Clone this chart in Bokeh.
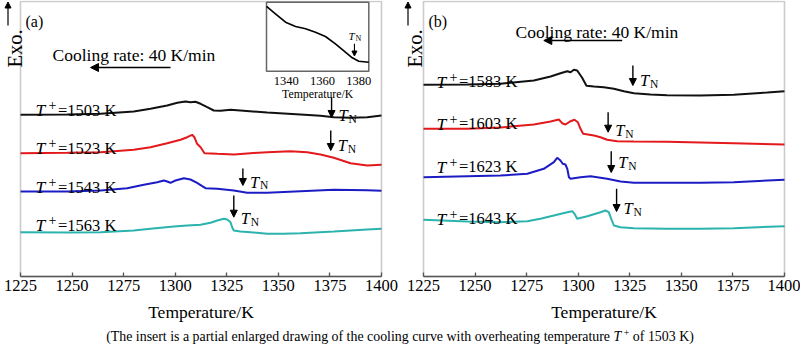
import math
from bokeh.plotting import figure
from bokeh.models import Range1d, LinearAxis, FixedTicker, Label, Arrow, NormalHead, Div, BoxAnnotation
from bokeh.layouts import row, column
from bokeh.embed import file_html
from bokeh.resources import INLINE

# ---------------- data ----------------
x_ticks = [1225, 1250, 1275, 1300, 1325, 1350, 1375, 1400]
inset_ticks = [1340, 1360, 1380]

# panel (a)
a1503_x = [1225, 1247.6, 1263.8, 1279.9, 1288.0, 1296.1, 1301.0, 1305.0, 1307.4, 1309.8, 1312.3, 1315.5,
           1318.7, 1322.0, 1326.8, 1331.6, 1344.6, 1360.7, 1370.4, 1376.9, 1385.0, 1393.1, 1400]
a1503_y = [161.7, 162.0, 162.7, 165.0, 167.7, 171.0, 173.7, 175.0, 174.3, 174.7, 172.7, 169.3,
           166.0, 165.7, 166.7, 166.0, 164.0, 162.0, 160.7, 159.3, 158.7, 159.3, 161.0]
a1523_x = [1225, 1247.6, 1263.8, 1279.9, 1288.0, 1296.1, 1302.6, 1305.8, 1308.2, 1309.3, 1310.6, 1312.3,
           1314.2, 1320.4, 1328.4, 1336.5, 1344.6, 1355.9, 1364.0, 1370.4, 1376.9, 1385.0, 1393.1, 1400]
a1523_y = [123.3, 123.7, 124.3, 126.7, 129.3, 133.3, 136.7, 139.3, 141.7, 139.3, 132.7, 129.3,
           123.3, 122.7, 122.0, 123.3, 124.3, 125.3, 124.3, 122.0, 118.7, 113.3, 111.0, 111.7]
a1543_x = [1225, 1247.6, 1263.8, 1276.7, 1284.8, 1291.3, 1294.5, 1296.1, 1297.7, 1300.1, 1304.2, 1307.4,
           1310.6, 1313.1, 1314.7, 1320.4, 1328.4, 1334.9, 1344.6, 1360.7, 1376.9, 1393.1, 1400]
a1543_y = [85.0, 85.0, 86.0, 88.3, 91.7, 94.3, 96.0, 95.0, 93.7, 96.0, 98.3, 97.0,
           93.7, 90.3, 88.3, 87.7, 86.0, 83.7, 83.7, 85.3, 86.7, 86.3, 85.7]
a1563_x = [1225, 1247.6, 1263.8, 1279.9, 1288.0, 1299.3, 1305.8, 1312.3, 1317.1, 1320.4, 1323.6, 1325.2,
           1326.8, 1327.6, 1328.4, 1331.6, 1336.5, 1344.6, 1352.6, 1360.7, 1376.9, 1393.1, 1400]
a1563_y = [44.3, 44.0, 44.3, 46.0, 47.7, 50.0, 51.0, 51.7, 53.7, 56.0, 57.7, 57.0,
           54.3, 49.3, 46.0, 45.0, 44.3, 42.7, 42.7, 43.3, 45.0, 47.0, 47.7]

# panel (b)
b1583_x = [1225, 1246.2, 1262.3, 1278.5, 1286.6, 1291.4, 1294.7, 1296.3, 1297.9, 1299.5, 1301.9, 1304.0,
           1307.6, 1312.4, 1317.3, 1322.1, 1327.0, 1335.0, 1343.1, 1359.3, 1375.4, 1391.6, 1400]
b1583_y = [191.7, 192.0, 192.7, 196.0, 200.0, 203.3, 205.3, 204.3, 206.7, 206.0, 198.7, 190.7,
           190.0, 189.3, 187.7, 185.3, 183.3, 182.0, 181.3, 181.0, 181.7, 184.0, 185.3]
b1603_x = [1225, 1246.2, 1262.3, 1278.5, 1286.6, 1290.6, 1292.2, 1293.8, 1296.3, 1298.2, 1299.8, 1301.1,
           1302.4, 1307.6, 1310.8, 1314.0, 1318.9, 1327.0, 1343.1, 1359.3, 1375.4, 1400]
b1603_y = [147.7, 147.7, 149.0, 152.0, 155.0, 157.0, 153.3, 152.0, 155.3, 156.7, 154.3, 147.7,
           142.7, 141.0, 139.3, 136.7, 135.3, 135.0, 134.7, 134.0, 133.3, 132.0]
b1623_x = [1225, 1262.3, 1275.3, 1283.3, 1288.2, 1289.8, 1291.4, 1292.5, 1293.8, 1294.7, 1295.5, 1296.3,
           1301.1, 1306.0, 1309.2, 1314.0, 1320.5, 1327.0, 1343.1, 1359.3, 1375.4, 1400]
b1623_y = [99.3, 101.0, 102.7, 107.7, 114.3, 118.7, 116.0, 112.7, 112.0, 107.7, 99.3, 97.7,
           99.3, 100.3, 99.3, 97.7, 95.0, 93.7, 93.7, 93.7, 94.3, 96.7]
b1643_x = [1225, 1246.2, 1262.3, 1275.3, 1281.7, 1288.2, 1294.7, 1297.1, 1298.2, 1299.5, 1304.4, 1310.8,
           1313.2, 1314.8, 1316.0, 1317.3, 1320.5, 1327.0, 1343.1, 1359.3, 1375.4, 1400]
b1643_y = [56.7, 55.0, 54.3, 55.3, 57.7, 61.0, 64.3, 65.3, 62.7, 57.7, 60.3, 64.3,
           66.0, 64.3, 57.7, 51.0, 49.3, 48.3, 47.7, 47.7, 48.3, 50.3]

# inset of (a): 1503 K curve, enlarged
inset_x = [1329.1, 1334.0, 1339.6, 1345.1, 1350.6, 1356.1, 1361.6, 1367.1, 1372.6, 1376.4, 1380.0, 1385.5]
inset_y = [93.8, 83.2, 71.0, 64.8, 61.4, 56.5, 50.3, 39.7, 27.5, 19.4, 14.5, 13.0]
inset_tn = 1377.6

temps_a = ["1503", "1523", "1543", "1563"]
temps_b = ["1583", "1603", "1623", "1643"]
tn_a = [1375.8, 1375.4, 1332.8, 1328.4]
tn_b = [1326.5, 1314.5, 1316.0, 1318.6]

colors = ["#111111", "#e3191c", "#1c1cc4", "#2bb3ae"]

# ---------------- layout constants ----------------
FONT = "Liberation Serif"
W, H = 400, 325
X0, X1 = 1225, 1400
TOP, BOT = 1, 276          # visible box top/bottom (canvas px)
FW = 361                   # visible box width px
SC = FW / (X1 - X0)        # px per K


def make_fig(left):
    """Frame covers the whole canvas; the visible box is drawn from the data limits."""
    xlo = X0 - left / SC
    xhi = X0 + (W - left) / SC
    p = figure(width=W, height=H, output_backend="svg", toolbar_location=None,
               x_range=Range1d(xlo, xhi), y_range=Range1d(BOT - H, BOT),
               x_axis_location=None, y_axis_location=None, min_border=0)
    p.grid.visible = False
    p.background_fill_color = "white"
    p.border_fill_color = "white"
    p.outline_line_color = None
    p.add_layout(BoxAnnotation(left=X0, right=X1, bottom=0, top=BOT - TOP, fill_color=None,
                               line_color="#555555", line_width=1.6))
    ax = LinearAxis(fixed_location=0, bounds=(X0, X1), ticker=FixedTicker(ticks=x_ticks))
    ax.minor_tick_line_color = None
    ax.major_tick_in = 4
    ax.major_tick_out = 0
    ax.major_tick_line_color = "#555555"
    ax.major_tick_line_width = 1.3
    ax.axis_line_color = "#555555"
    ax.axis_line_width = 1.6
    ax.major_label_text_font = FONT
    ax.major_label_text_font_size = "16.5px"
    ax.major_label_text_color = "black"
    ax.major_label_standoff = 3
    ax.axis_label = "Temperature/K"
    ax.axis_label_text_font = FONT
    ax.axis_label_text_font_size = "17.5px"
    ax.axis_label_text_font_style = "normal"
    ax.axis_label_text_color = "black"
    ax.axis_label_standoff = 8
    p.add_layout(ax, "below")
    p._left = left
    return p


def lab(p, px, py, text, size, style="normal", angle=0.0, align="left"):
    p.add_layout(Label(x=X0 + (px - p._left) / SC, y=BOT - py, text=text,
                       text_font=FONT, text_font_size=f"{size}px", text_font_style=style,
                       text_baseline="alphabetic", text_align=align, angle=angle,
                       text_color="black"))


def arrow(p, px0, py0, px1, py1, size=7, width=1.4):
    left = p._left
    p.add_layout(Arrow(end=NormalHead(size=size, fill_color="black", line_color="black", line_width=1),
                       x_start=X0 + (px0 - left) / SC, y_start=BOT - py0,
                       x_end=X0 + (px1 - left) / SC, y_end=BOT - py1,
                       line_color="black", line_width=width))


def decorate(p, panel, cool_x, cool_base, cool_arrow, tplus_x0, tplus_base, temps,
             tns, tn_py, tn_base):
    # Exo. with upward arrow, left of the box
    lab(p, 14, 67, "Exo.", 20.5, angle=math.pi / 2)
    arrow(p, 7.5, 25, 7.5, 1.5, size=6, width=1.2)
    # panel letter
    lab(p, p._left + 5, 21, panel, 16)
    # cooling rate
    lab(p, cool_x, cool_base, "Cooling rate: 40 K/min", 17.5)
    arrow(p, cool_arrow[0], cool_arrow[2], cool_arrow[1], cool_arrow[2], size=8, width=1.3)
    for i, t in enumerate(temps):
        b = tplus_base[i]
        lab(p, tplus_x0, b, "T", 17.5, "italic")
        lab(p, tplus_x0 + 13, b - 5, "+", 14)
        lab(p, tplus_x0 + 22.5, b, "=" + t + " K", 16.5)
        # T_N marker
        ax_px = p._left + (tns[i] - X0) * SC
        arrow(p, ax_px, tn_py[i][0], ax_px, tn_py[i][1], size=7, width=1.4)
        lab(p, ax_px + 7, tn_base[i], "T", 16.5, "italic")
        lab(p, ax_px + 17, tn_base[i] + 3.3, "N", 11.5)


# ---------------- panel (a) ----------------
p1 = make_fig(20)

# inset mapping (extra ranges spanning the whole canvas)
IN_L, IN_R, IN_B, IN_T = 266.0, 368.3, 70.7, 1.7   # inset box in canvas px
IN_PXK = 1.8125                                      # px per K in inset
IN_REF_K, IN_REF_PX = 1340.0, 285.8
in_pxv = (IN_B - IN_T) / 100.0
p1.extra_x_ranges = {"inset": Range1d(IN_REF_K - IN_REF_PX / IN_PXK, IN_REF_K + (W - IN_REF_PX) / IN_PXK)}
p1.extra_y_ranges = {"inset": Range1d(-(H - IN_B) / in_pxv, IN_B / in_pxv)}

box_l = IN_REF_K + (IN_L - IN_REF_PX) / IN_PXK
box_r = IN_REF_K + (IN_R - IN_REF_PX) / IN_PXK
p1.quad(left=[box_l], right=[box_r], bottom=[0], top=[100], x_range_name="inset", y_range_name="inset",
        fill_color="white", line_color="#666666", line_width=1.5)
p1.line(inset_x, inset_y, x_range_name="inset", y_range_name="inset", line_color="black", line_width=1.6)

iax = LinearAxis(x_range_name="inset", y_range_name="inset", fixed_location=0,
                 ticker=FixedTicker(ticks=inset_ticks))
iax.axis_line_color = None
iax.major_tick_line_color = None
iax.minor_tick_line_color = None
iax.major_label_text_font = FONT
iax.major_label_text_font_size = "12.5px"
iax.major_label_text_color = "black"
iax.major_label_standoff = 0
p1.add_layout(iax, "below")
p1.add_layout(Label(x=(box_l + box_r) / 2, y=(IN_B - 93.3) / in_pxv, text="Temperature/K",
                    x_range_name="inset", y_range_name="inset", text_font=FONT, text_font_size="11.8px",
                    text_align="center", text_baseline="alphabetic", text_color="black"))

# inset T_N
p1.add_layout(Arrow(end=NormalHead(size=5, fill_color="black", line_color="black", line_width=1),
                    x_start=inset_tn, y_start=(IN_B - 43.3) / in_pxv, x_end=inset_tn, y_end=(IN_B - 55.5) / in_pxv,
                    x_range_name="inset", y_range_name="inset", line_color="black", line_width=1.1))
for txt, dx, dy, sz, st in [("T", -6, 35, 11, "italic"), ("N", 1, 37.5, 8, "normal")]:
    p1.add_layout(Label(x=inset_tn, y=(IN_B - dy) / in_pxv, x_offset=dx, text=txt, x_range_name="inset",
                        y_range_name="inset", text_font=FONT, text_font_size=f"{sz}px", text_font_style=st,
                        text_baseline="alphabetic", text_color="black"))

for xs, ys, c in zip([a1503_x, a1523_x, a1543_x, a1563_x], [a1503_y, a1523_y, a1543_y, a1563_y], colors):
    p1.line(xs, ys, line_color=c, line_width=2)

decorate(p1, "(a)", 52, 54.5, (170, 90, 67), 35, [109.5, 147.5, 186.5, 224.5], temps_a, tn_a,
         [(97, 117), (130, 150), (168, 185), (195, 216.7)], [115, 145, 181.5, 218.3])

# ---------------- panel (b) ----------------
p2 = make_fig(23)
for xs, ys, c in zip([b1583_x, b1603_x, b1623_x, b1643_x], [b1583_y, b1603_y, b1623_y, b1643_y], colors):
    p2.line(xs, ys, line_color=c, line_width=2)

decorate(p2, "(b)", 115, 31, (221.7, 143.3, 40), 36, [81, 123, 166, 218], temps_b, tn_b,
         [(65, 85), (111.7, 131.7), (150.7, 172), (188.3, 211)], [80, 130, 161.7, 208.3])

# ---------------- caption ----------------
cap = Div(text=('<div style="width:800px;text-align:center;font-family:\'Liberation Serif\';'
                'font-size:13.9px;line-height:24px;white-space:nowrap;color:black">'
                '(The insert is a partial enlarged drawing of the cooling curve with overheating '
                'temperature <i>T</i><span style="font-size:10px;position:relative;top:-5px">&nbsp;+</span> of 1503 K)</div>'),
          width=800, height=25, margin=0)

layout = column(row(p1, p2, spacing=0), cap, spacing=0)
open("out.html", "w").write(file_html(layout, INLINE))
